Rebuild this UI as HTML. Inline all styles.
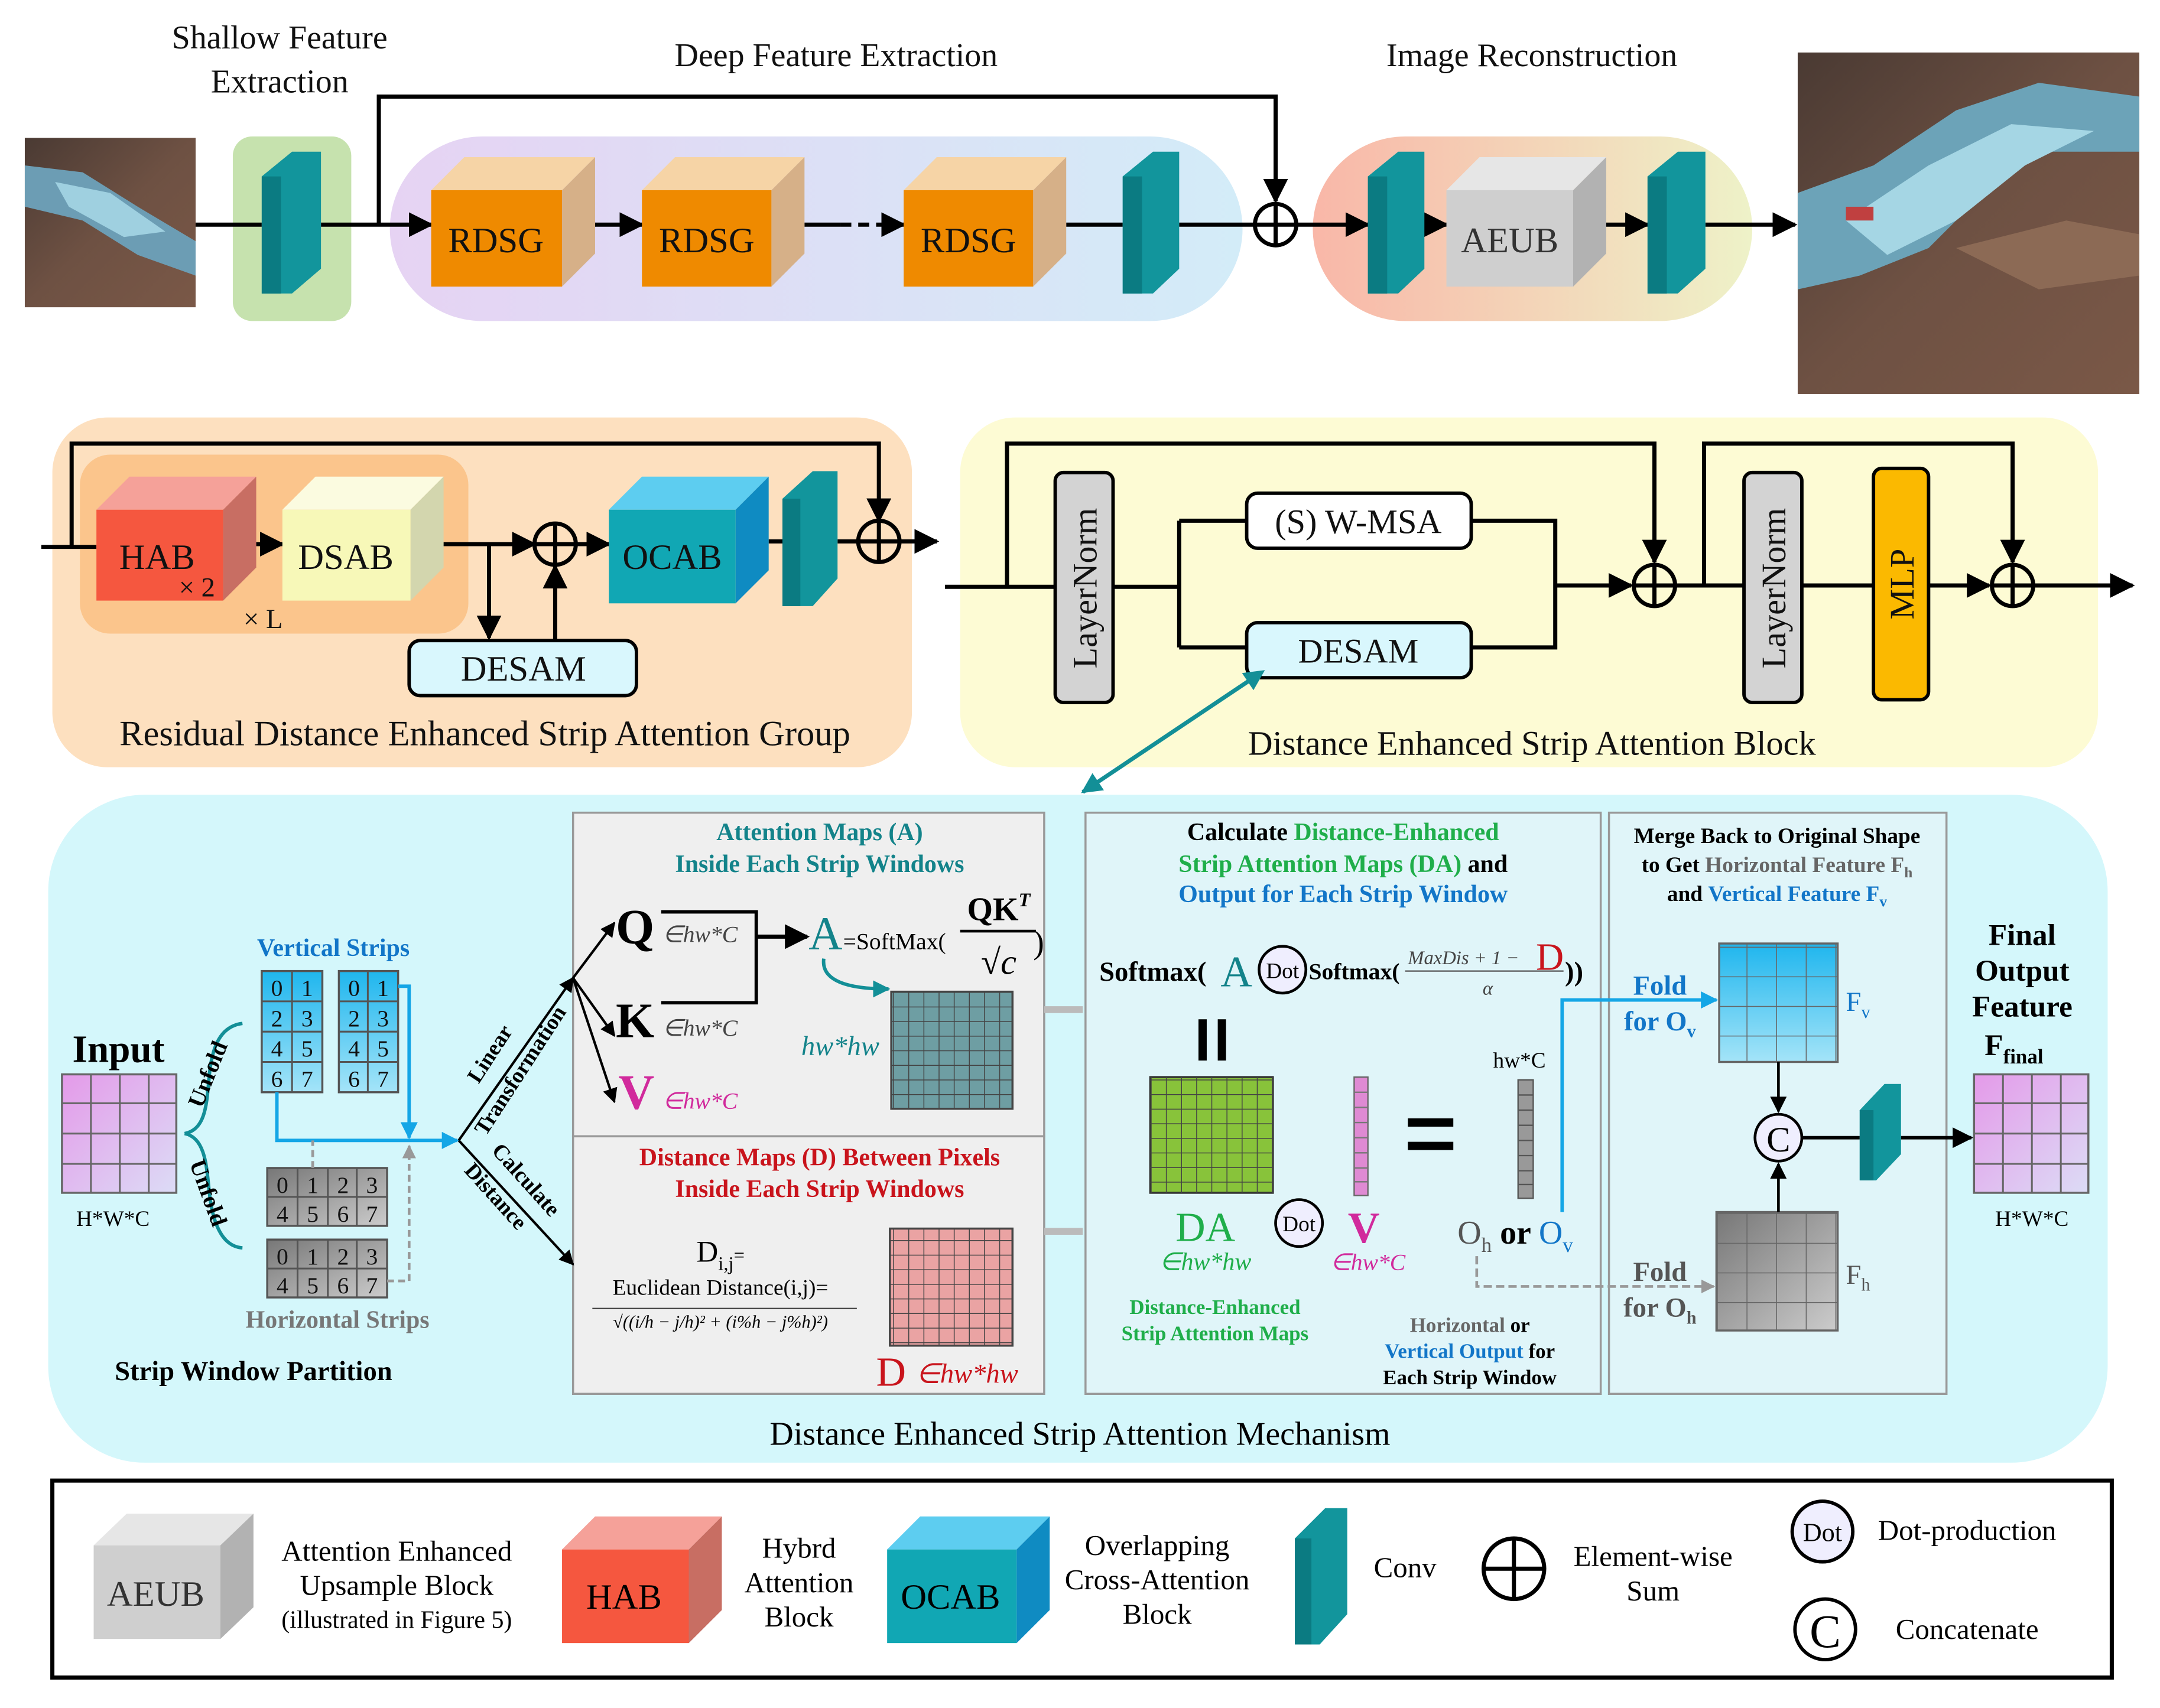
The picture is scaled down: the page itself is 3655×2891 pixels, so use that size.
<!DOCTYPE html>
<html><head><meta charset="utf-8"><style>
html,body{margin:0;padding:0;background:#fff}
svg{display:block}
text{font-family:"Liberation Serif",serif}
</style></head><body>
<svg width="3655" height="2891" viewBox="0 0 1568 1240" xmlns="http://www.w3.org/2000/svg">
<defs>
<linearGradient id="gp" x1="0" x2="1"><stop offset="0" stop-color="#e6d3f3"/><stop offset="1" stop-color="#d3ecf8"/></linearGradient>
<linearGradient id="gr" x1="0" x2="1"><stop offset="0" stop-color="#f9b7a8"/><stop offset="1" stop-color="#eef2c8"/></linearGradient>
<linearGradient id="gpink" x1="0" y1="0" x2="1" y2="1"><stop offset="0" stop-color="#e49ae9"/><stop offset="1" stop-color="#dcdcf6"/></linearGradient>
<linearGradient id="gblue" x1="0" y1="0" x2="0" y2="1"><stop offset="0" stop-color="#1fb6ee"/><stop offset="1" stop-color="#a4e4f8"/></linearGradient>
<linearGradient id="ggray" x1="0" y1="0" x2="1" y2="1"><stop offset="0" stop-color="#777"/><stop offset="1" stop-color="#ccc"/></linearGradient>
<linearGradient id="brn" x1="0" y1="0" x2="1" y2="1"><stop offset="0" stop-color="#4a3a33"/><stop offset="0.5" stop-color="#6e5143"/><stop offset="1" stop-color="#7a5847"/></linearGradient>
<pattern id="g8" width="11" height="10.6" patternUnits="userSpaceOnUse"><path d="M11 0V10.6M0 10.6H11" stroke="#444" stroke-width="1.3" fill="none"/></pattern>
<pattern id="g4" width="21.5" height="21.5" patternUnits="userSpaceOnUse"><path d="M21.5 0V21.5M0 21.5H21.5" stroke="#666" stroke-width="1.3" fill="none"/></pattern>
<marker id="ar" viewBox="0 0 10 10" refX="9" refY="5" markerWidth="6" markerHeight="6" orient="auto"><path d="M0 0L10 5L0 10z" fill="#000"/></marker>
<marker id="arb" viewBox="0 0 10 10" refX="9" refY="5" markerWidth="5" markerHeight="5" orient="auto"><path d="M0 0L10 5L0 10z" fill="#14a6e6"/></marker>
<marker id="arg" viewBox="0 0 10 10" refX="9" refY="5" markerWidth="5" markerHeight="5" orient="auto"><path d="M0 0L10 5L0 10z" fill="#999"/></marker>
<marker id="art" viewBox="0 0 10 10" refX="9" refY="5" markerWidth="5" markerHeight="5" orient="auto"><path d="M0 0L10 5L0 10z" fill="#138f97"/></marker>
<marker id="arts" viewBox="0 0 10 10" refX="1" refY="5" markerWidth="5" markerHeight="5" orient="auto-start-reverse"><path d="M0 0L10 5L0 10z" fill="#138f97"/></marker>
</defs>

<!-- TOP ROW -->
<g font-size="24" text-anchor="middle" fill="#111">
<text x="203" y="35">Shallow Feature</text><text x="203" y="67">Extraction</text>
<text x="607" y="48">Deep Feature Extraction</text>
<text x="1112" y="48">Image Reconstruction</text>
</g>
<rect x="18" y="100" width="124" height="123" fill="url(#brn)"/>
<polygon points="18,120 60,125 100,150 142,175 142,200 100,185 60,160 18,150" fill="#6c9db4"/>
<polygon points="40,132 80,140 120,168 90,172 50,150" fill="#9fd0e0"/>
<rect x="1305" y="38" width="248" height="248" fill="url(#brn)"/>
<polygon points="1305,140 1360,120 1420,80 1480,60 1553,70 1553,110 1480,110 1440,140 1400,180 1350,200 1305,210" fill="#6ca3b8"/>
<polygon points="1340,160 1400,120 1460,90 1520,95 1470,120 1420,160 1370,185" fill="#a5d6e4"/>
<polygon points="1420,180 1500,160 1553,170 1553,200 1480,210" fill="#8c6a55"/>
<rect x="1340" y="150" width="20" height="10" fill="#c04040"/>
<rect x="169" y="99" width="86" height="134" rx="14" fill="#c6e2ae"/>
<rect x="283" y="99" width="619" height="134" rx="67" fill="url(#gp)"/>
<rect x="953" y="99" width="319" height="134" rx="67" fill="url(#gr)"/>
<g stroke="#000" stroke-width="3" fill="none">
<path d="M142 163H190"/><path d="M233 163H313" marker-end="url(#ar)"/>
<path d="M275 163V70H926V146" marker-end="url(#ar)"/>
<path d="M432 163H466" marker-end="url(#ar)"/><path d="M584 163H610"/><path d="M610 163H656" stroke-dasharray="8 5" marker-end="url(#ar)"/>
<path d="M774 163H815"/><path d="M856 163H911"/><path d="M941 163H993" marker-end="url(#ar)"/>
<path d="M1034 163H1050" marker-end="url(#ar)"/><path d="M1166 163H1196" marker-end="url(#ar)"/>
<path d="M1238 163H1303" marker-end="url(#ar)"/>
<circle cx="926" cy="163" r="15"/><path d="M911 163H941M926 148V178"/>
</g>
<g>
<polygon points="190,128 212,110 233,110 233,195 212,213 190,213" fill="#12959c"/><rect x="190" y="128" width="14" height="85" fill="#0b7b82"/>
<polygon points="815,128 837,110 856,110 856,195 837,213 815,213" fill="#12959c"/><rect x="815" y="128" width="14" height="85" fill="#0b7b82"/>
<polygon points="993,128 1015,110 1034,110 1034,195 1015,213 993,213" fill="#12959c"/><rect x="993" y="128" width="14" height="85" fill="#0b7b82"/>
<polygon points="1196,128 1218,110 1238,110 1238,195 1218,213 1196,213" fill="#12959c"/><rect x="1196" y="128" width="14" height="85" fill="#0b7b82"/>
</g>
<g font-size="26" text-anchor="middle" fill="#111">
<polygon points="313,138 337,114 432,114 408,138" fill="#f6d4a6"/><polygon points="408,138 432,114 432,184 408,208" fill="#d6b088"/><rect x="313" y="138" width="95" height="70" fill="#ef8a00"/><text x="360" y="183">RDSG</text>
<polygon points="466,138 490,114 584,114 560,138" fill="#f6d4a6"/><polygon points="560,138 584,114 584,184 560,208" fill="#d6b088"/><rect x="466" y="138" width="94" height="70" fill="#ef8a00"/><text x="513" y="183">RDSG</text>
<polygon points="656,138 680,114 774,114 750,138" fill="#f6d4a6"/><polygon points="750,138 774,114 774,184 750,208" fill="#d6b088"/><rect x="656" y="138" width="94" height="70" fill="#ef8a00"/><text x="703" y="183">RDSG</text>
<polygon points="1050,138 1074,114 1166,114 1142,138" fill="#e6e6e6"/><polygon points="1142,138 1166,114 1166,184 1142,208" fill="#b2b2b2"/><rect x="1050" y="138" width="92" height="70" fill="#cfcfcf"/><text x="1096" y="183" fill="#333">AEUB</text>
</g>

<!-- MIDDLE LEFT -->
<rect x="38" y="303" width="624" height="254" rx="40" fill="#fde0bf"/>
<rect x="58" y="330" width="282" height="130" rx="22" fill="#fbc58c"/>
<g stroke="#000" stroke-width="3" fill="none">
<path d="M52 397V322H638V378" marker-end="url(#ar)"/>
<path d="M30 397H70"/><path d="M186 395H205" marker-end="url(#ar)"/>
<path d="M322 395H388" marker-end="url(#ar)"/><path d="M418 395H442" marker-end="url(#ar)"/>
<path d="M355 395V463" marker-end="url(#ar)"/><path d="M403 465V411" marker-end="url(#ar)"/>
<path d="M558 393H570"/><path d="M608 393H623"/><path d="M653 393H680" marker-end="url(#ar)"/>
<circle cx="403" cy="395" r="15"/><path d="M388 395H418M403 380V410"/>
<circle cx="638" cy="393" r="15"/><path d="M623 393H653M638 378V408"/>
</g>
<g font-size="26" text-anchor="middle" fill="#111">
<polygon points="70,370 94,346 186,346 162,370" fill="#f5a199"/><polygon points="162,370 186,346 186,412 162,436" fill="#c86e63"/><rect x="70" y="370" width="92" height="66" fill="#f5573f"/><text x="114" y="413">HAB</text>
<text x="143" y="433" font-size="20">× 2</text>
<polygon points="205,370 229,346 322,346 298,370" fill="#fbfbe0"/><polygon points="298,370 322,346 322,412 298,436" fill="#d3d6ae"/><rect x="205" y="370" width="93" height="66" fill="#f7f8b8"/><text x="251" y="413">DSAB</text>
<text x="191" y="456" font-size="20">× L</text>
<polygon points="442,370 466,346 558,346 534,370" fill="#5dcdf0"/><polygon points="534,370 558,346 558,414 534,438" fill="#0f8bc2"/><rect x="442" y="370" width="92" height="68" fill="#11a7b4"/><text x="488" y="413">OCAB</text>
<polygon points="568,362 590,342 608,342 608,420 590,440 568,440" fill="#12959c"/><rect x="568" y="362" width="13" height="78" fill="#0b7b82"/>
<rect x="297" y="465" width="165" height="40" rx="8" fill="#d9f7fd" stroke="#000" stroke-width="2.5"/><text x="380" y="494">DESAM</text>
<text x="352" y="541">Residual Distance Enhanced Strip Attention Group</text>
</g>

<!-- MIDDLE RIGHT -->
<rect x="697" y="303" width="826" height="254" rx="40" fill="#fdfbd4"/>
<g stroke="#000" stroke-width="3" fill="none">
<path d="M686 426H766"/><path d="M731 426V322H1201V408" marker-end="url(#ar)"/>
<path d="M808 426H856"/><path d="M856 378V470"/><path d="M856 378H905M856 470H905"/>
<path d="M1068 378H1129V470H1068"/><path d="M1129 425H1184" marker-end="url(#ar)"/>
<path d="M1216 425H1266"/><path d="M1237 425V322H1461V408" marker-end="url(#ar)"/>
<path d="M1308 425H1360"/><path d="M1400 425H1444" marker-end="url(#ar)"/><path d="M1476 425H1548" marker-end="url(#ar)"/>
<circle cx="1201" cy="425" r="15"/><path d="M1186 425H1216M1201 410V440"/>
<circle cx="1461" cy="425" r="15"/><path d="M1446 425H1476M1461 410V440"/>
</g>
<g font-size="25" fill="#111" text-anchor="middle">
<rect x="766" y="343" width="42" height="167" rx="6" fill="#d3d3d3" stroke="#000" stroke-width="2.5"/>
<text transform="translate(796,427) rotate(-90)">LayerNorm</text>
<rect x="1266" y="343" width="42" height="167" rx="6" fill="#d3d3d3" stroke="#000" stroke-width="2.5"/>
<text transform="translate(1296,427) rotate(-90)">LayerNorm</text>
<rect x="1360" y="340" width="40" height="168" rx="6" fill="#fbb900" stroke="#000" stroke-width="2.5"/>
<text transform="translate(1389,424) rotate(-90)">MLP</text>
<rect x="905" y="358" width="163" height="40" rx="8" fill="#fff" stroke="#000" stroke-width="2.5"/><text x="986" y="387">(S) W-MSA</text>
<rect x="905" y="452" width="163" height="40" rx="8" fill="#d9f7fd" stroke="#000" stroke-width="2.5"/><text x="986" y="481">DESAM</text>
<text x="1112" y="548">Distance Enhanced Strip Attention Block</text>
</g>

<!-- BOTTOM -->
<rect x="35" y="577" width="1495" height="485" rx="70" fill="#d4f7fb"/>
<path d="M907 494L786 575" stroke="#138f97" stroke-width="3" marker-end="url(#art)" marker-start="url(#arts)"/>
<rect x="416" y="590" width="342" height="235" fill="#efefef" stroke="#999" stroke-width="1.5"/>
<rect x="416" y="825" width="342" height="187" fill="#efefef" stroke="#999" stroke-width="1.5"/>
<rect x="788" y="590" width="374" height="422" fill="#e0f5f9" stroke="#999" stroke-width="1.5"/>
<rect x="1168" y="590" width="245" height="422" fill="#e0f5f9" stroke="#999" stroke-width="1.5"/>
<path d="M758 733H786M758 894H786" stroke="#bbb" stroke-width="5"/>

<text x="86" y="771" font-size="28" font-weight="bold" text-anchor="middle">Input</text>
<rect x="45" y="780" width="83" height="86" fill="url(#gpink)" stroke="#666" stroke-width="1.5"/>
<path d="M66 780V866M87 780V866M108 780V866M45 801H128M45 823H128M45 845H128" stroke="#666" stroke-width="1.3"/>
<text x="82" y="890" font-size="16" text-anchor="middle">H*W*C</text>
<path d="M134 823C150 820 150 800 152 780C154 760 160 745 176 743M134 823C150 826 150 850 152 866C154 885 160 905 176 906" stroke="#138f97" stroke-width="2.5" fill="none"/>
<text transform="translate(156,782) rotate(-68)" font-size="17" font-weight="bold" text-anchor="middle">Unfold</text>
<text transform="translate(146,868) rotate(70)" font-size="17" font-weight="bold" text-anchor="middle">Unfold</text>
<text x="242" y="694" font-size="18" font-weight="bold" fill="#1276c8" text-anchor="middle">Vertical Strips</text>
<g font-size="17" text-anchor="middle" fill="#111">
<rect x="190" y="705" width="44" height="88" fill="url(#gblue)" stroke="#555" stroke-width="1.5"/>
<path d="M212 705V793M190 727H234M190 749H234M190 771H234" stroke="#555" stroke-width="1.3"/>
<rect x="246" y="705" width="43" height="88" fill="url(#gblue)" stroke="#555" stroke-width="1.5"/>
<path d="M267 705V793M246 727H289M246 749H289M246 771H289" stroke="#555" stroke-width="1.3"/>
<text x="201" y="723">0</text><text x="223" y="723">1</text><text x="201" y="745">2</text><text x="223" y="745">3</text><text x="201" y="767">4</text><text x="223" y="767">5</text><text x="201" y="789">6</text><text x="223" y="789">7</text>
<text x="257" y="723">0</text><text x="278" y="723">1</text><text x="257" y="745">2</text><text x="278" y="745">3</text><text x="257" y="767">4</text><text x="278" y="767">5</text><text x="257" y="789">6</text><text x="278" y="789">7</text>
<rect x="194" y="848" width="87" height="42" fill="url(#ggray)" stroke="#555" stroke-width="1.5"/>
<path d="M216 848V890M238 848V890M259 848V890M194 869H281" stroke="#555" stroke-width="1.3"/>
<rect x="194" y="900" width="87" height="42" fill="url(#ggray)" stroke="#555" stroke-width="1.5"/>
<path d="M216 900V942M238 900V942M259 900V942M194 921H281" stroke="#555" stroke-width="1.3"/>
<text x="205" y="866">0</text><text x="227" y="866">1</text><text x="249" y="866">2</text><text x="270" y="866">3</text><text x="205" y="887">4</text><text x="227" y="887">5</text><text x="249" y="887">6</text><text x="270" y="887">7</text>
<text x="205" y="918">0</text><text x="227" y="918">1</text><text x="249" y="918">2</text><text x="270" y="918">3</text><text x="205" y="939">4</text><text x="227" y="939">5</text><text x="249" y="939">6</text><text x="270" y="939">7</text>
</g>
<text x="245" y="964" font-size="18" font-weight="bold" fill="#777" text-anchor="middle">Horizontal Strips</text>
<text x="184" y="1002" font-size="20" font-weight="bold" text-anchor="middle">Strip Window Partition</text>
<path d="M201 793V828H332" stroke="#14a6e6" stroke-width="2.5" fill="none" marker-end="url(#arb)"/>
<path d="M289 716H297V826" stroke="#14a6e6" stroke-width="2.5" fill="none" marker-end="url(#arb)"/>
<path d="M227 848V828M281 930H297V832" stroke="#999" stroke-width="2" stroke-dasharray="5 3" fill="none" marker-end="url(#arg)"/>
<g stroke="#000" stroke-width="1.8" fill="none">
<path d="M333 828L416 710" marker-end="url(#ar)"/><path d="M333 828L416 918" marker-end="url(#ar)"/>
<path d="M416 710L446 670" marker-end="url(#ar)"/><path d="M416 710L446 752" marker-end="url(#ar)"/><path d="M416 710L446 800" marker-end="url(#ar)"/>
</g>
<text transform="translate(360,768) rotate(-57)" font-size="16" font-weight="bold" text-anchor="middle">Linear</text>
<text transform="translate(382,780) rotate(-57)" font-size="16" font-weight="bold" text-anchor="middle">Transformation</text>
<text transform="translate(378,860) rotate(48)" font-size="16" font-weight="bold" text-anchor="middle">Calculate</text>
<text transform="translate(356,872) rotate(48)" font-size="16" font-weight="bold" text-anchor="middle">Distance</text>

<g text-anchor="middle" font-weight="bold" font-size="18" fill="#13838a">
<text x="595" y="610">Attention Maps (A)</text><text x="595" y="633">Inside Each Strip Windows</text></g>
<text x="447" y="685" font-size="36" font-weight="bold">Q</text>
<text x="481" y="684" font-size="17" font-style="italic" fill="#444">∈hw*C</text>
<text x="447" y="753" font-size="36" font-weight="bold">K</text>
<text x="481" y="752" font-size="17" font-style="italic" fill="#444">∈hw*C</text>
<text x="449" y="805" font-size="36" font-weight="bold" fill="#d12a9c">V</text>
<text x="481" y="805" font-size="17" font-style="italic" fill="#d12a9c">∈hw*C</text>
<path d="M480 662H549V728H480" stroke="#000" stroke-width="2.5" fill="none"/>
<path d="M549 680H586" stroke="#000" stroke-width="3" marker-end="url(#ar)"/>
<text x="587" y="689" font-size="34" fill="#13838a">A</text>
<text x="612" y="689" font-size="17">=SoftMax(</text>
<text x="725" y="668" font-size="24" font-weight="bold" text-anchor="middle">QK<tspan font-size="14" dy="-10" font-style="italic">T</tspan></text>
<path d="M697 676H752" stroke="#000" stroke-width="2"/>
<text x="725" y="707" font-size="26" text-anchor="middle">√<tspan font-style="italic">c</tspan></text>
<text x="750" y="692" font-size="24">)</text>
<path d="M598 696C596 712 615 718 645 718" stroke="#138f97" stroke-width="2.5" fill="none" marker-end="url(#art)"/>
<text x="610" y="766" font-size="20" font-style="italic" fill="#13838a" text-anchor="middle">hw*hw</text>
<rect x="647" y="720" width="88" height="85" fill="#6e9ea3" stroke="#444" stroke-width="1.5"/>
<rect x="647" y="720" width="88" height="85" fill="url(#g8)"/>

<g text-anchor="middle" font-weight="bold" font-size="18" fill="#c9141c">
<text x="595" y="846">Distance Maps (D) Between Pixels</text><text x="595" y="869">Inside Each Strip Windows</text></g>
<text x="523" y="916" font-size="22" text-anchor="middle">D<tspan font-size="14" dy="6">i,j</tspan><tspan font-size="14" dy="-6">=</tspan></text>
<text x="523" y="940" font-size="16" text-anchor="middle">Euclidean Distance(i,j)=</text>
<text x="523" y="964" font-size="13" font-style="italic" text-anchor="middle">√((i/h − j/h)² + (i%h − j%h)²)</text>
<path d="M430 950H622" stroke="#444" stroke-width="1"/>
<rect x="646" y="892" width="89" height="85" fill="#eaa3a3" stroke="#444" stroke-width="1.5"/>
<rect x="646" y="892" width="89" height="85" fill="url(#g8)"/>
<text x="636" y="1006" font-size="30" fill="#c9141c">D</text>
<text x="665" y="1004" font-size="20" font-style="italic" fill="#c9141c">∈hw*hw</text>

<g text-anchor="middle" font-weight="bold" font-size="18">
<text x="975" y="610">Calculate <tspan fill="#1fae4a">Distance-Enhanced</tspan></text>
<text x="975" y="633"><tspan fill="#1fae4a">Strip Attention Maps (DA)</tspan> and</text>
<text x="975" y="655" fill="#1276c8">Output for Each Strip Window</text></g>
<text x="798" y="712" font-size="20" font-weight="bold">Softmax(</text>
<text x="886" y="716" font-size="32" fill="#13838a">A</text>
<circle cx="931" cy="704" r="17" fill="#efeefe" stroke="#000" stroke-width="2"/><text x="931" y="710" font-size="16" text-anchor="middle">Dot</text>
<text x="950" y="711" font-size="17" font-weight="bold">Softmax(</text>
<text x="1022" y="700" font-size="14" font-style="italic" fill="#444">MaxDis + 1 −</text>
<text x="1115" y="704" font-size="28" fill="#c9141c">D</text>
<path d="M1020 705H1135" stroke="#555" stroke-width="1"/>
<text x="1080" y="722" font-size="14" font-style="italic" fill="#444" text-anchor="middle">α</text>
<text x="1136" y="712" font-size="20" font-weight="bold">))</text>
<path d="M873 740V770M887 740V770" stroke="#000" stroke-width="6"/>
<rect x="835" y="782" width="89" height="84" fill="#88c33a" stroke="#333" stroke-width="1.5"/>
<rect x="835" y="782" width="89" height="84" fill="url(#g8)"/>
<rect x="983" y="782" width="10" height="86" fill="#df8ad3" stroke="#666" stroke-width="1"/>
<path d="M983 793H993M983 804H993M983 815H993M983 826H993M983 837H993M983 848H993M983 858H993" stroke="#777"/>
<path d="M1022 815H1055M1022 832H1055" stroke="#000" stroke-width="6"/>
<text x="1103" y="775" font-size="16" text-anchor="middle">hw*C</text>
<rect x="1102" y="784" width="11" height="86" fill="#999" stroke="#555" stroke-width="1"/>
<path d="M1102 795H1113M1102 806H1113M1102 817H1113M1102 828H1113M1102 839H1113M1102 850H1113M1102 860H1113" stroke="#555"/>
<text x="875" y="901" font-size="30" fill="#1fae4a" text-anchor="middle">DA</text>
<text x="875" y="922" font-size="18" font-style="italic" fill="#1fae4a" text-anchor="middle">∈hw*hw</text>
<circle cx="943" cy="888" r="17" fill="#efeefe" stroke="#000" stroke-width="2"/><text x="943" y="894" font-size="16" text-anchor="middle">Dot</text>
<text x="990" y="902" font-size="32" font-weight="bold" fill="#d12a9c" text-anchor="middle">V</text>
<text x="993" y="922" font-size="17" font-style="italic" fill="#d12a9c" text-anchor="middle">∈hw*C</text>
<text x="1058" y="903" font-size="24" fill="#555">O<tspan font-size="15" dy="6">h</tspan><tspan dy="-6" fill="#000" font-weight="bold"> or </tspan><tspan fill="#1276c8">O</tspan><tspan font-size="15" dy="6" fill="#1276c8">v</tspan></text>
<g text-anchor="middle" font-weight="bold" font-size="15">
<text x="882" y="954" fill="#1fae4a">Distance-Enhanced</text><text x="882" y="973" fill="#1fae4a">Strip Attention Maps</text>
<text x="1067" y="967"><tspan fill="#666">Horizontal</tspan> or</text>
<text x="1067" y="986"><tspan fill="#1276c8">Vertical Output</tspan> for</text>
<text x="1067" y="1005">Each Strip Window</text></g>
<path d="M1134 880V726H1246" stroke="#14a6e6" stroke-width="2.5" fill="none" marker-end="url(#arb)"/>
<path d="M1072 912V934H1244" stroke="#999" stroke-width="2" stroke-dasharray="6 3" fill="none" marker-end="url(#arg)"/>

<g text-anchor="middle" font-weight="bold" font-size="16">
<text x="1290" y="612">Merge Back to Original Shape</text>
<text x="1290" y="633">to Get <tspan fill="#666">Horizontal Feature F</tspan><tspan fill="#666" font-size="11" dy="4">h</tspan></text>
<text x="1290" y="654">and <tspan fill="#1276c8">Vertical Feature F</tspan><tspan fill="#1276c8" font-size="11" dy="4">v</tspan></text></g>
<text x="1205" y="722" font-size="20" font-weight="bold" fill="#1276c8" text-anchor="middle">Fold</text>
<text x="1205" y="748" font-size="20" font-weight="bold" fill="#1276c8" text-anchor="middle">for O<tspan font-size="13" dy="5">v</tspan></text>
<text x="1205" y="930" font-size="20" font-weight="bold" fill="#555" text-anchor="middle">Fold</text>
<text x="1205" y="956" font-size="20" font-weight="bold" fill="#555" text-anchor="middle">for O<tspan font-size="13" dy="5">h</tspan></text>
<rect x="1248" y="685" width="86" height="86" fill="url(#gblue)" stroke="#666" stroke-width="1.5"/>
<rect x="1248" y="685" width="86" height="86" fill="url(#g4)"/>
<rect x="1246" y="880" width="88" height="86" fill="url(#ggray)" stroke="#666" stroke-width="1.5"/>
<rect x="1246" y="880" width="88" height="86" fill="url(#g4)"/>
<text x="1340" y="734" font-size="20" fill="#1276c8">F<tspan font-size="13" dy="5">v</tspan></text>
<text x="1340" y="932" font-size="20" fill="#555">F<tspan font-size="13" dy="5">h</tspan></text>
<path d="M1291 771V807" stroke="#000" stroke-width="2" marker-end="url(#ar)"/>
<path d="M1291 880V845" stroke="#000" stroke-width="2" marker-end="url(#ar)"/>
<circle cx="1291" cy="826" r="17" fill="#efeefe" stroke="#000" stroke-width="2"/><text x="1291" y="836" font-size="26" text-anchor="middle">C</text>
<path d="M1308 826H1350M1380 826H1431" stroke="#000" stroke-width="2.5" marker-end="url(#ar)"/>
<polygon points="1350,806 1368,787 1380,787 1380,838 1362,857 1350,857" fill="#12959c"/><rect x="1350" y="806" width="10" height="51" fill="#0b7b82"/>
<g text-anchor="middle" font-weight="bold" font-size="22">
<text x="1468" y="686">Final</text><text x="1468" y="712">Output</text><text x="1468" y="738">Feature</text>
<text x="1462" y="766">F<tspan font-size="15" dy="6">final</tspan></text></g>
<rect x="1433" y="780" width="83" height="86" fill="url(#gpink)" stroke="#666" stroke-width="1.5"/>
<path d="M1454 780V866M1475 780V866M1496 780V866M1433 801H1516M1433 823H1516M1433 845H1516" stroke="#666" stroke-width="1.3"/>
<text x="1475" y="890" font-size="16" text-anchor="middle">H*W*C</text>
<text x="784" y="1049" font-size="24" text-anchor="middle">Distance Enhanced Strip Attention Mechanism</text>

<!-- LEGEND -->
<rect x="38" y="1075" width="1495" height="143" fill="#fff" stroke="#000" stroke-width="3"/>
<g font-size="26" text-anchor="middle">
<polygon points="68,1122 92,1099 184,1099 160,1122" fill="#e6e6e6"/><polygon points="160,1122 184,1099 184,1167 160,1190" fill="#b2b2b2"/><rect x="68" y="1122" width="92" height="68" fill="#cfcfcf"/><text x="113" y="1166" fill="#333">AEUB</text>
<polygon points="408,1125 432,1101 524,1101 500,1125" fill="#f5a199"/><polygon points="500,1125 524,1101 524,1169 500,1193" fill="#c86e63"/><rect x="408" y="1125" width="92" height="68" fill="#f5573f"/><text x="453" y="1168">HAB</text>
<polygon points="644,1125 668,1101 762,1101 738,1125" fill="#5dcdf0"/><polygon points="738,1125 762,1101 762,1169 738,1193" fill="#0f8bc2"/><rect x="644" y="1125" width="94" height="68" fill="#11a7b4"/><text x="690" y="1168">OCAB</text>
</g>
<polygon points="940,1117 962,1095 978,1095 978,1172 958,1194 940,1194" fill="#12959c"/><rect x="940" y="1117" width="12" height="77" fill="#0b7b82"/>
<g font-size="21" text-anchor="middle">
<text x="288" y="1133">Attention Enhanced</text><text x="288" y="1158">Upsample Block</text><text x="288" y="1182" font-size="18">(illustrated in Figure 5)</text>
<text x="580" y="1131">Hybrd</text><text x="580" y="1156">Attention</text><text x="580" y="1181">Block</text>
<text x="840" y="1129">Overlapping</text><text x="840" y="1154">Cross-Attention</text><text x="840" y="1179">Block</text>
<text x="1020" y="1145">Conv</text>
<text x="1200" y="1137">Element-wise</text><text x="1200" y="1162">Sum</text>
<text x="1428" y="1118">Dot-production</text>
<text x="1428" y="1190">Concatenate</text>
</g>
<circle cx="1099" cy="1139" r="22" fill="none" stroke="#000" stroke-width="3"/><path d="M1077 1139H1121M1099 1117V1161" stroke="#000" stroke-width="3"/>
<circle cx="1323" cy="1112" r="22" fill="#efeefe" stroke="#000" stroke-width="2.5"/><text x="1323" y="1119" font-size="19" text-anchor="middle">Dot</text>
<circle cx="1325" cy="1183" r="22" fill="#fff" stroke="#000" stroke-width="2.5"/><text x="1325" y="1196" font-size="34" text-anchor="middle">C</text>
</svg>
</body></html>
